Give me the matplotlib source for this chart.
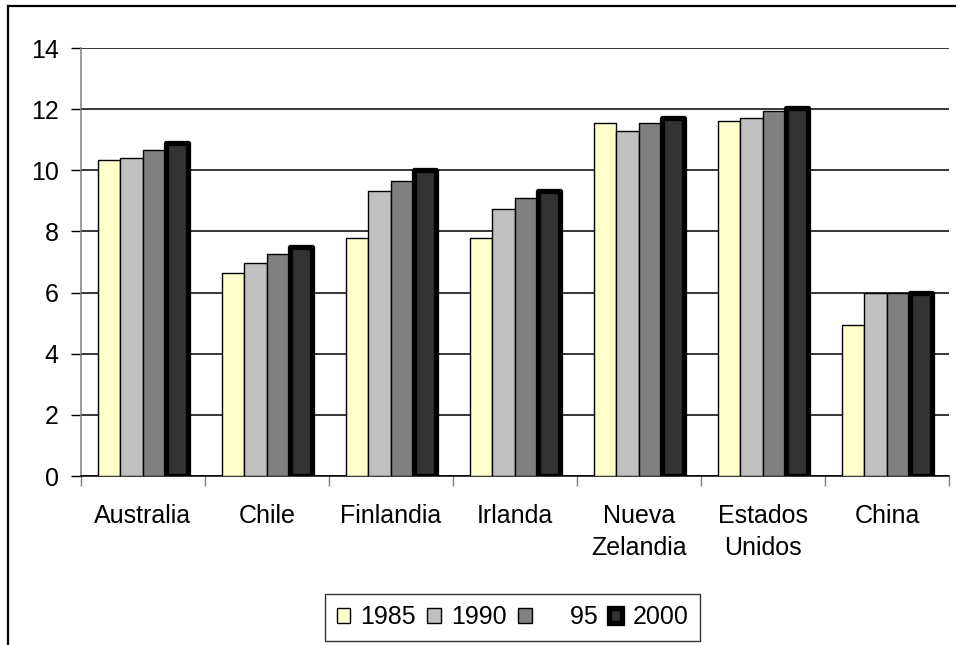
import matplotlib
matplotlib.use("Agg")
import matplotlib.pyplot as plt
from matplotlib.lines import Line2D
import numpy as np

categories = ["Australia", "Chile", "Finlandia", "Irlanda", "Nueva\nZelandia", "Estados\nUnidos", "China"]
series_labels = ["1985", "1990", "    95", "2000"]
v1985 = [10.33, 6.65, 7.8, 7.8, 11.54, 11.6, 4.95]
v1990 = [10.39, 6.98, 9.33, 8.75, 11.27, 11.72, 6.0]
v1995 = [10.66, 7.25, 9.66, 9.08, 11.54, 11.93, 6.0]
v2000 = [10.9, 7.5, 10.0, 9.33, 11.72, 12.05, 6.0]
yticks = [0, 2, 4, 6, 8, 10, 12, 14]

series = [v1985, v1990, v1995, v2000]
colors = ["#FFFFCC", "#C0C0C0", "#808080", "#333333"]
edgew = [1.0, 1.0, 1.0, 3.8]

plt.rcParams['font.family'] = ['Liberation Sans', 'DejaVu Sans']
FS = 18

W, H = 956, 645
fig = plt.figure(figsize=(W / 100, H / 100), dpi=100)
ax = fig.add_axes([81 / W, (H - 476) / H, (949 - 81) / W, (476 - 48) / H])

x = np.arange(len(categories))
w = 1 / 5.5
for j, vals in enumerate(series):
    ax.bar(x + (j - 1.5) * w, vals, width=w, color=colors[j], edgecolor="black",
           linewidth=edgew[j], joinstyle="round", label=series_labels[j], zorder=3)

ax.set_xlim(-0.5, len(categories) - 0.5)
ax.set_ylim(0, 14)
ax.set_yticks(yticks)
ax.set_yticklabels([str(t) for t in yticks], fontsize=FS)
ax.yaxis.grid(True, color="black", linewidth=1.1, zorder=0)
ax.set_axisbelow(True)

ax.set_xticks(x)
ax.set_xticklabels(categories, fontsize=FS, linespacing=1.42, va="top")
ax.set_xticks(np.arange(len(categories) + 1) - 0.5, minor=True)
ax.tick_params(axis="x", which="major", length=0, pad=20.5)
ax.tick_params(axis="x", which="minor", length=7, width=1, color="#808080", direction="out")
ax.tick_params(axis="y", length=7, width=1, color="black", pad=9)

for s in ["top", "right"]:
    ax.spines[s].set_visible(False)
ax.spines["left"].set_color("#808080")
ax.spines["left"].set_linewidth(1.1)
ax.spines["bottom"].set_color("black")
ax.spines["bottom"].set_linewidth(1.1)

leg = fig.legend(loc="center", bbox_to_anchor=(512.5 / W, (H - 617.5) / H), ncol=4,
                 fontsize=FS, frameon=True, fancybox=False, edgecolor="black",
                 handlelength=0.55, handleheight=0.55, handletextpad=0.4,
                 columnspacing=0.45, borderpad=0.45, borderaxespad=0)
leg.get_frame().set_linewidth(1.0)

# outer chart border (left and top visible)
fig.add_artist(Line2D([8 / W, 8 / W], [0, (H - 6) / H], transform=fig.transFigure, color="black", linewidth=1.6))
fig.add_artist(Line2D([8 / W, 1.0], [(H - 6) / H, (H - 6) / H], transform=fig.transFigure, color="black", linewidth=1.6))

fig.savefig("out.png", dpi=100)
